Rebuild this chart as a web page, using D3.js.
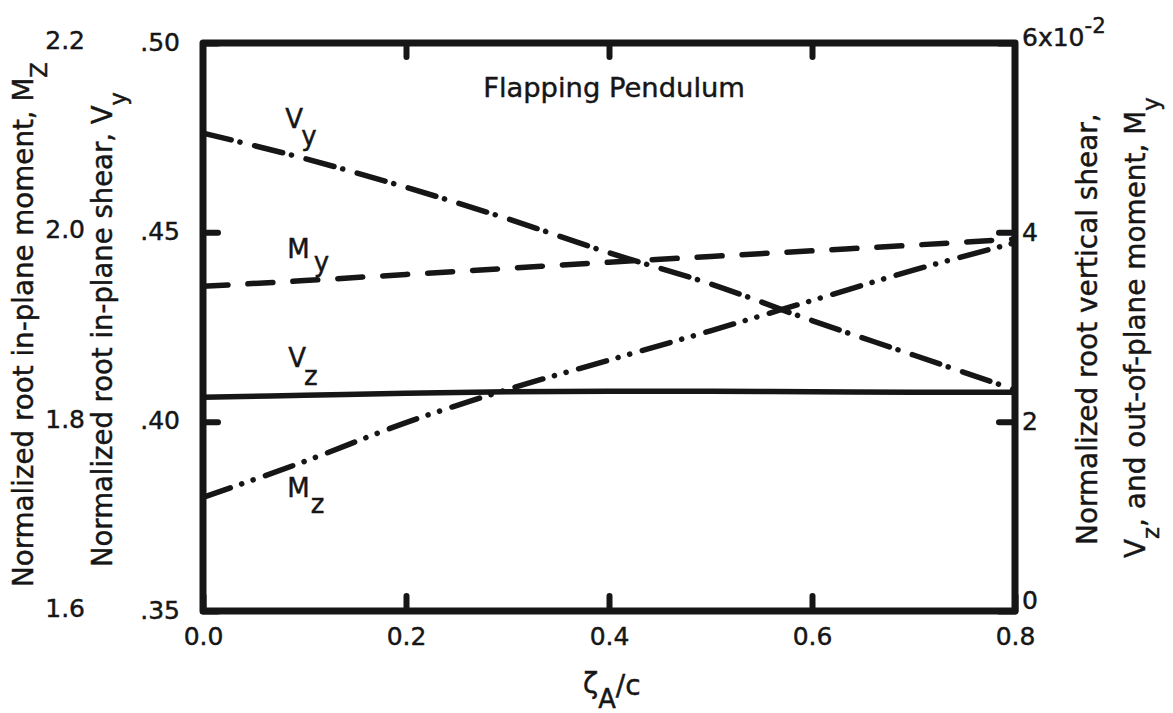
<!DOCTYPE html>
<html><head><meta charset="utf-8">
<script src="https://cdn.jsdelivr.net/npm/d3@7"></script>
<style>
body{margin:0;background:#fff;}
svg text{font-family:"DejaVu Sans",sans-serif;fill:#161616;stroke:#161616;stroke-width:0.45px;}
</style></head><body>
<svg id="chart" width="1173" height="713"></svg>
<script>
// ---- data ----
const xTicks = [0, 0.2, 0.4, 0.6, 0.8];
const xLabels = ["0.0", "0.2", "0.4", "0.6", "0.8"];
const topTicks = [0.2, 0.4, 0.6];
const shearTicks = [0.35, 0.40, 0.45, 0.50];
const shearLabels = [".35", ".40", ".45", ".50"];
const mzTicks = [1.6, 1.8, 2.0, 2.2];
const mzLabels = ["1.6", "1.8", "2.0", "2.2"];
const rightTicks = [0, 2, 4, 6];
const rightLabels = ["0", "2", "4", "6x10"];
const zetaVals = [0, 0.1, 0.2, 0.3, 0.4, 0.5, 0.6, 0.7, 0.8];
const vyVals = [0.4762, 0.4695, 0.4619, 0.4536, 0.4446, 0.4364, 0.4267, 0.4176, 0.4084];   // left (shear) axis
const mzVals = [1.720, 1.758, 1.799, 1.834, 1.865, 1.896, 1.928, 1.960, 1.989];            // left (moment) axis
const myVals = [3.43, 3.49, 3.555, 3.62, 3.685, 3.745, 3.805, 3.865, 3.93];                // right axis (x10^-2)
const vzVals = [2.257, 2.278, 2.300, 2.315, 2.320, 2.320, 2.315, 2.310, 2.310];            // right axis (x10^-2)

const ink = "#161616";
const svg = d3.select("#chart");

const x = d3.scaleLinear().domain([0, 0.8]).range([203, 1015]);
const yShear = d3.scaleLinear().domain([0.35, 0.50]).range([611, 43]);
const yMz = d3.scaleLinear().domain([1.6, 2.2]).range([611, 43]);
const yR = d3.scaleLinear().domain([0, 6]).range([611, 43]);

function styleAxis(g, fs) {
  g.select(".domain").remove();
  g.selectAll(".tick line").attr("stroke", ink).attr("stroke-width", 6).attr("stroke-linecap", "round");
  g.selectAll(".tick text").attr("font-size", fs).attr("fill", ink)
    .style("font-family", '"DejaVu Sans",sans-serif');
}

// bottom axis
const gB = svg.append("g").attr("transform", "translate(0,611)")
  .call(d3.axisBottom(x).tickValues(xTicks).tickFormat((d, i) => xLabels[i]).tickSize(-15).tickPadding(16));
styleAxis(gB, 25);
// top axis (ticks only)
const gT = svg.append("g").attr("transform", "translate(0,43)")
  .call(d3.axisTop(x).tickValues(topTicks).tickFormat("").tickSize(-14));
styleAxis(gT, 0);
// left shear axis
const gL = svg.append("g").attr("transform", "translate(203,0)")
  .call(d3.axisLeft(yShear).tickValues(shearTicks).tickFormat((d, i) => shearLabels[i]).tickSize(-15).tickPadding(23));
styleAxis(gL, 25);
gL.selectAll(".tick text").attr("dy", "0.28em");
// left moment axis (labels only)
const gM = svg.append("g").attr("transform", "translate(203,0)")
  .call(d3.axisLeft(yMz).tickValues(mzTicks).tickFormat((d, i) => mzLabels[i]).tickSize(0).tickPadding(118));
styleAxis(gM, 25);
gM.selectAll(".tick line").remove();
gM.selectAll(".tick text").attr("dy", "0.22em");
// right axis
const gR = svg.append("g").attr("transform", "translate(1015,0)")
  .call(d3.axisRight(yR).tickValues(rightTicks).tickFormat((d, i) => rightLabels[i]).tickSize(-16).tickPadding(7));
styleAxis(gR, 25);
gR.selectAll(".tick text").attr("dy", d => d === 0 ? "-0.12em" : (d === 6 ? "0.1em" : "0.32em"));
gR.selectAll(".tick text").filter(d => d === 6)
  .append("tspan").attr("font-size", "0.85em").attr("dy", "-0.6em").text("-2");

// frame
svg.append("rect").attr("x", x(0)).attr("y", yShear(0.50))
  .attr("width", x(0.8) - x(0)).attr("height", yShear(0.35) - yShear(0.50))
  .attr("fill", "none").attr("stroke", ink).attr("stroke-width", 7).attr("stroke-linejoin", "round");

// lines
function drawLine(vals, yScale, dash) {
  const data = zetaVals.map((z, i) => [z, vals[i]]);
  const line = d3.line().x(d => x(d[0])).y(d => yScale(d[1])).curve(d3.curveMonotoneX);
  svg.append("path").datum(data).attr("d", line)
    .attr("fill", "none").attr("stroke", ink).attr("stroke-width", 5.5)
    .attr("stroke-linecap", dash ? "round" : "butt")
    .attr("stroke-dasharray", dash || null);
}
drawLine(vzVals, yR, null);
drawLine(myVals, yR, "25,20");
drawLine(vyVals, yShear, "29,9,0.1,15");
drawLine(mzVals, yMz, "29,12,0.1,12,0.1,13");

// curve labels (positioned in data space of the shear axis)
const curveLabels = [
  { main: "V", sub: "y", zx: 0.081, v: 0.4775, dx: -1, dy: 17 },
  { main: "M", sub: "y", zx: 0.083, v: 0.4432, dx: 4, dy: 13 },
  { main: "V", sub: "z", zx: 0.084, v: 0.4144, dx: -2, dy: 18 },
  { main: "M", sub: "z", zx: 0.083, v: 0.3801, dx: 1, dy: 16 }
];
curveLabels.forEach(l => {
  const t = svg.append("text").attr("x", x(l.zx)).attr("y", yShear(l.v)).attr("font-size", 26);
  t.append("tspan").text(l.main);
  t.append("tspan").attr("dx", l.dx).attr("dy", l.dy).text(l.sub);
});

function fit(sel, target) {
  const w = sel.node().getBBox().width;
  const fs = parseFloat(sel.attr("font-size"));
  sel.attr("font-size", fs * target / w);
}

// title
const title = svg.append("text").attr("x", x(0.405)).attr("y", yShear(0.4857))
  .attr("text-anchor", "middle").attr("font-size", 26).text("Flapping Pendulum");
fit(title, 262);

// rotated axis titles
function vlabel(px, py, parts, target) {
  const t = svg.append("text").attr("transform", `translate(${px},${py}) rotate(-90)`)
    .attr("font-size", 25);
  parts.forEach(p => {
    const s = t.append("tspan").text(p.t);
    if (p.sub) s.attr("font-size", "0.82em").attr("dy", "0.62em");
    if (p.back) s.attr("dy", "-0.51em");
  });
  fit(t, target);
  return t;
}
vlabel(33, 587, [{ t: "Normalized root in-plane moment, M" }, { t: "Z", sub: true }], 525);
vlabel(112, 567, [{ t: "Normalized root in-plane shear, V" }, { t: "y", sub: true }], 475);
vlabel(1097, 545, [{ t: "Normalized root vertical shear," }], 432);
vlabel(1145, 558, [{ t: "V" }, { t: "z", sub: true }, { t: ", and out-of-plane moment, M", back: true }, { t: "y", sub: true }], 461);

// x-axis title
const xt = svg.append("text").attr("x", 583).attr("y", 693).attr("font-size", 28);
xt.append("tspan").text("ζ");
xt.append("tspan").attr("font-size", "0.92em").attr("dy", 15).text("A");
xt.append("tspan").attr("dy", -13).text("/c");
</script>
</body></html>
